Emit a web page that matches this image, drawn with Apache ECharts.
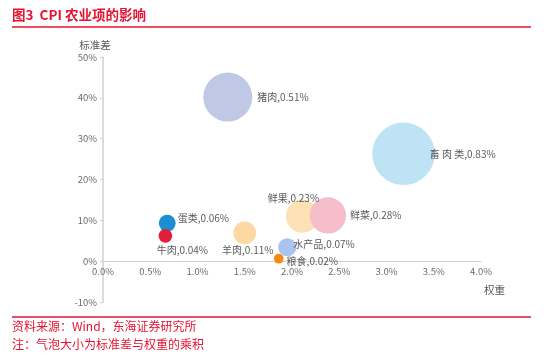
<!DOCTYPE html>
<html>
<head>
<meta charset="utf-8">
<script src="https://cdn.jsdelivr.net/npm/echarts@6/dist/echarts.min.js"></script>
<style>html,body{margin:0;padding:0;background:#fff}#c{width:550px;height:361px}</style>
</head>
<body>
<div id="c"></div>
<script>
// Data
var names   = ['猪肉', '畜 肉 类', '蛋类', '牛肉', '羊肉', '水产品', '粮食', '鲜果', '鲜菜'];
var weights = [1.32, 3.18, 0.68, 0.66, 1.50, 1.95, 1.86, 2.11, 2.38];   // 权重 (%)
var stdevs  = [40.2, 26.3, 9.3, 6.2, 6.9, 3.4, 0.6, 11.0, 11.2];        // 标准差 (%)
var products = [0.51, 0.83, 0.06, 0.04, 0.11, 0.07, 0.02, 0.23, 0.28]; // 乘积 (%)
var xTicks = [0, 0.5, 1, 1.5, 2, 2.5, 3, 3.5, 4];
var yTicks = [-10, 0, 10, 20, 30, 40, 50];

// styles (kept separate from data)
var colors = ['#bfc8e4', '#bee3f5', '#1b8fd2', '#e21f3b', '#fdd8a2', '#a8c4ef', '#f98b0c', '#fee0b6', '#f6bdcb'];
var labelCfg = [
  {position: 'right', distance: 5, offset: [0, 0]},
  {position: 'right', distance: -5, offset: [0, 0]},
  {position: 'right', distance: 2, offset: [0, -5]},
  {position: 'bottom', distance: 2, offset: [17, 0]},
  {position: 'bottom', distance: 1, offset: [3, 0]},
  {position: 'right', distance: -3, offset: [0, -3]},
  {position: 'right', distance: 3, offset: [0, 2]},
  {position: 'top', distance: -3, offset: [-9, 0]},
  {position: 'right', distance: 4, offset: [0, 0]}
];

var data = names.map(function (n, i) {
  return {
    value: [weights[i], stdevs[i], products[i]],
    name: n,
    itemStyle: {color: colors[i]},
    label: labelCfg[i]
  };
});

var chart = echarts.init(document.getElementById('c'));
var font = '"Noto Sans CJK SC", "Noto Sans", sans-serif';
chart.setOption({
  animation: false,
  textStyle: {fontFamily: font},
  grid: {left: 103, right: 69, top: 57, bottom: 59, containLabel: false},
  xAxis: {
    type: 'value', min: xTicks[0], max: xTicks[xTicks.length - 1], interval: 0.5,
    offset: -41,
    axisLine: {onZero: false, lineStyle: {color: '#d0d0d0', width: 1}},
    axisTick: {show: false},
    splitLine: {show: false},
    axisLabel: {color: '#6b6b6b', fontSize: 9.5, margin: 6, formatter: function (v) { return v.toFixed(1) + '%'; }},
    name: '权重', nameLocation: 'end', nameGap: 3,
    nameTextStyle: {color: '#595959', fontSize: 10.5, verticalAlign: 'top', align: 'left', padding: [24, 0, 0, 0]}
  },
  yAxis: {
    type: 'value', min: yTicks[0], max: yTicks[yTicks.length - 1], interval: 10,
    axisLine: {show: true, lineStyle: {color: '#d0d0d0', width: 1.5}},
    axisTick: {show: true, length: 3, lineStyle: {color: '#d0d0d0'}},
    splitLine: {show: false},
    axisLabel: {color: '#6b6b6b', fontSize: 9.5, margin: 6, formatter: function (v) { return v + '%'; }},
    name: '标准差', nameLocation: 'end', nameGap: 7,
    nameTextStyle: {color: '#595959', fontSize: 10.5, align: 'center', padding: [0, 0, 0, -16]}
  },
  series: [{
    type: 'scatter',
    data: data,
    symbolSize: function (v) { return 68.6 * Math.sqrt(v[2]); },
    itemStyle: {opacity: 1},
    label: {
      show: true, color: '#595959', fontSize: 10,
      formatter: function (p) { return p.name + ',' + p.value[2].toFixed(2) + '%'; }
    },
    z: 3
  }],
  graphic: [
    {type: 'text', left: 12, top: 8, style: {text: '图3  CPI 农业项的影响', fill: '#e5132f', font: 'bold 13.5px ' + font}},
    {type: 'line', shape: {x1: 12, y1: 27, x2: 531, y2: 27}, style: {stroke: '#e5132f', lineWidth: 1.5}},
    {type: 'line', shape: {x1: 12, y1: 317, x2: 531, y2: 317}, style: {stroke: '#e5132f', lineWidth: 1.5}},
    {type: 'text', left: 12, top: 320, style: {text: '资料来源：Wind，东海证券研究所', fill: '#e5132f', font: '12px ' + font}},
    {type: 'text', left: 12, top: 338, style: {text: '注：气泡大小为标准差与权重的乘积', fill: '#e5132f', font: '12px ' + font}}
  ]
});
</script>
</body>
</html>
